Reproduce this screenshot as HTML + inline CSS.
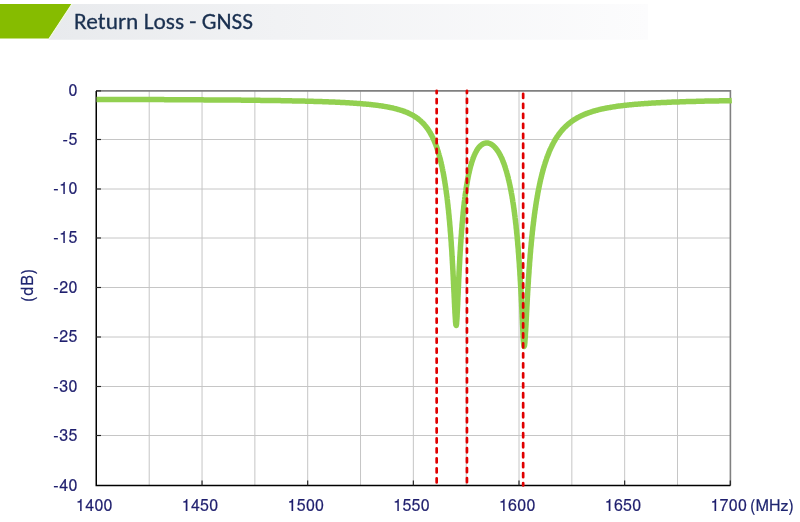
<!DOCTYPE html>
<html><head><meta charset="utf-8"><style>
html,body{margin:0;padding:0;background:#fff;width:800px;height:522px;overflow:hidden}
svg{display:block}
.lbl{font-family:"FreeSans","Liberation Sans",Arial,sans-serif;font-size:16px;fill:#1f1f6e;stroke:#1f1f6e;stroke-width:0.2px;letter-spacing:0.3px}
.ttl{font-family:"Carlito","Liberation Sans",sans-serif;font-size:23.35px;fill:#1a3050;stroke:#1a3050;stroke-width:0.3px}
</style></head><body>
<svg width="800" height="522" viewBox="0 0 800 522">
<defs><linearGradient id="bg" x1="0" x2="1" y1="0" y2="0">
<stop offset="0" stop-color="#e8eaed"/><stop offset="0.38" stop-color="#f1f2f4"/><stop offset="1" stop-color="#fcfcfd"/></linearGradient></defs>
<polygon points="72.3,4 648,4 648,39.7 48.5,39.7" fill="url(#bg)"/>
<polygon points="0,4 71.3,4 48.6,38.5 0,38.5" fill="#86bc00"/>
<line x1="72.3" y1="4" x2="49.6" y2="38.5" stroke="#eef6df" stroke-width="1"/>
<text class="ttl" x="74.1" y="29.3" textLength="178.9" lengthAdjust="spacingAndGlyphs">Return Loss - GNSS</text>
<g stroke="#c6c6c6" stroke-width="1"><line x1="96.0" y1="139.5" x2="730.4" y2="139.5"/><line x1="96.0" y1="189.0" x2="730.4" y2="189.0"/><line x1="96.0" y1="238.0" x2="730.4" y2="238.0"/><line x1="96.0" y1="287.5" x2="730.4" y2="287.5"/><line x1="96.0" y1="337.0" x2="730.4" y2="337.0"/><line x1="96.0" y1="386.5" x2="730.4" y2="386.5"/><line x1="96.0" y1="435.5" x2="730.4" y2="435.5"/><line x1="149.21" y1="90.9" x2="149.21" y2="485.5"/><line x1="202.04" y1="90.9" x2="202.04" y2="485.5"/><line x1="254.86" y1="90.9" x2="254.86" y2="485.5"/><line x1="307.69" y1="90.9" x2="307.69" y2="485.5"/><line x1="360.52" y1="90.9" x2="360.52" y2="485.5"/><line x1="413.35" y1="90.9" x2="413.35" y2="485.5"/><line x1="466.18" y1="90.9" x2="466.18" y2="485.5"/><line x1="519.00" y1="90.9" x2="519.00" y2="485.5"/><line x1="571.83" y1="90.9" x2="571.83" y2="485.5"/><line x1="624.66" y1="90.9" x2="624.66" y2="485.5"/><line x1="677.49" y1="90.9" x2="677.49" y2="485.5"/></g>
<path d="M96.0 90.9 H730.4 V485.5" fill="none" stroke="#808080" stroke-width="1.6"/>
<path d="M96.25 90.9 V485.5 H730.4" fill="none" stroke="#000" stroke-width="1.5"/>
<g stroke="#222" stroke-width="1.15"><line x1="96.0" y1="90.9" x2="101.0" y2="90.9"/><line x1="96.0" y1="139.5" x2="101.0" y2="139.5"/><line x1="96.0" y1="189.0" x2="101.0" y2="189.0"/><line x1="96.0" y1="238.0" x2="101.0" y2="238.0"/><line x1="96.0" y1="287.5" x2="101.0" y2="287.5"/><line x1="96.0" y1="337.0" x2="101.0" y2="337.0"/><line x1="96.0" y1="386.5" x2="101.0" y2="386.5"/><line x1="96.0" y1="435.5" x2="101.0" y2="435.5"/><line x1="202.04" y1="485.5" x2="202.04" y2="480.5"/><line x1="307.69" y1="485.5" x2="307.69" y2="480.5"/><line x1="413.35" y1="485.5" x2="413.35" y2="480.5"/><line x1="519.00" y1="485.5" x2="519.00" y2="480.5"/><line x1="624.66" y1="485.5" x2="624.66" y2="480.5"/><line x1="730.32" y1="485.5" x2="730.32" y2="480.5"/></g>
<path d="M96.5 99.4 L97.2 99.4 L97.9 99.4 L98.7 99.4 L99.4 99.4 L100.1 99.4 L100.8 99.4 L101.5 99.4 L102.3 99.4 L103.0 99.4 L103.7 99.5 L104.4 99.5 L105.1 99.5 L105.9 99.5 L106.6 99.5 L107.3 99.5 L108.0 99.5 L108.7 99.5 L109.4 99.5 L110.2 99.5 L110.9 99.5 L111.6 99.5 L112.3 99.5 L113.0 99.5 L113.8 99.5 L114.5 99.5 L115.2 99.5 L115.9 99.5 L116.6 99.5 L117.4 99.5 L118.1 99.5 L118.8 99.5 L119.5 99.5 L120.2 99.5 L121.0 99.5 L121.7 99.5 L122.4 99.5 L123.1 99.5 L123.8 99.5 L124.5 99.5 L125.3 99.5 L126.0 99.5 L126.7 99.5 L127.4 99.5 L128.1 99.5 L128.9 99.5 L129.6 99.5 L130.3 99.5 L131.0 99.5 L131.7 99.5 L132.5 99.5 L133.2 99.5 L133.9 99.5 L134.6 99.5 L135.3 99.5 L136.1 99.5 L136.8 99.5 L137.5 99.5 L138.2 99.6 L138.9 99.6 L139.6 99.6 L140.4 99.6 L141.1 99.6 L141.8 99.6 L142.5 99.6 L143.2 99.6 L144.0 99.6 L144.7 99.6 L145.4 99.6 L146.1 99.6 L146.8 99.6 L147.6 99.6 L148.3 99.6 L149.0 99.6 L149.7 99.6 L150.4 99.6 L151.2 99.6 L151.9 99.6 L152.6 99.6 L153.3 99.6 L154.0 99.6 L154.7 99.6 L155.5 99.6 L156.2 99.6 L156.9 99.6 L157.6 99.6 L158.3 99.6 L159.1 99.6 L159.8 99.6 L160.5 99.6 L161.2 99.6 L161.9 99.6 L162.7 99.6 L163.4 99.6 L164.1 99.6 L164.8 99.7 L165.5 99.7 L166.2 99.7 L167.0 99.7 L167.7 99.7 L168.4 99.7 L169.1 99.7 L169.8 99.7 L170.6 99.7 L171.3 99.7 L172.0 99.7 L172.7 99.7 L173.4 99.7 L174.2 99.7 L174.9 99.7 L175.6 99.7 L176.3 99.7 L177.0 99.7 L177.8 99.7 L178.5 99.7 L179.2 99.7 L179.9 99.7 L180.6 99.7 L181.3 99.7 L182.1 99.7 L182.8 99.7 L183.5 99.7 L184.2 99.7 L184.9 99.7 L185.7 99.8 L186.4 99.8 L187.1 99.8 L187.8 99.8 L188.5 99.8 L189.3 99.8 L190.0 99.8 L190.7 99.8 L191.4 99.8 L192.1 99.8 L192.9 99.8 L193.6 99.8 L194.3 99.8 L195.0 99.8 L195.7 99.8 L196.4 99.8 L197.2 99.8 L197.9 99.8 L198.6 99.8 L199.3 99.8 L200.0 99.8 L200.8 99.8 L201.5 99.8 L202.2 99.8 L202.9 99.8 L203.6 99.9 L204.4 99.9 L205.1 99.9 L205.8 99.9 L206.5 99.9 L207.2 99.9 L208.0 99.9 L208.7 99.9 L209.4 99.9 L210.1 99.9 L210.8 99.9 L211.5 99.9 L212.3 99.9 L213.0 99.9 L213.7 99.9 L214.4 99.9 L215.1 99.9 L215.9 99.9 L216.6 99.9 L217.3 99.9 L218.0 100.0 L218.7 100.0 L219.5 100.0 L220.2 100.0 L220.9 100.0 L221.6 100.0 L222.3 100.0 L223.0 100.0 L223.8 100.0 L224.5 100.0 L225.2 100.0 L225.9 100.0 L226.6 100.0 L227.4 100.0 L228.1 100.0 L228.8 100.0 L229.5 100.0 L230.2 100.0 L231.0 100.1 L231.7 100.1 L232.4 100.1 L233.1 100.1 L233.8 100.1 L234.6 100.1 L235.3 100.1 L236.0 100.1 L236.7 100.1 L237.4 100.1 L238.1 100.1 L238.9 100.1 L239.6 100.1 L240.3 100.1 L241.0 100.1 L241.7 100.2 L242.5 100.2 L243.2 100.2 L243.9 100.2 L244.6 100.2 L245.3 100.2 L246.1 100.2 L246.8 100.2 L247.5 100.2 L248.2 100.2 L248.9 100.2 L249.7 100.2 L250.4 100.2 L251.1 100.2 L251.8 100.3 L252.5 100.3 L253.2 100.3 L254.0 100.3 L254.7 100.3 L255.4 100.3 L256.1 100.3 L256.8 100.3 L257.6 100.3 L258.3 100.3 L259.0 100.3 L259.7 100.3 L260.4 100.4 L261.2 100.4 L261.9 100.4 L262.6 100.4 L263.3 100.4 L264.0 100.4 L264.8 100.4 L265.5 100.4 L266.2 100.4 L266.9 100.4 L267.6 100.5 L268.3 100.5 L269.1 100.5 L269.8 100.5 L270.5 100.5 L271.2 100.5 L271.9 100.5 L272.7 100.5 L273.4 100.5 L274.1 100.5 L274.8 100.6 L275.5 100.6 L276.3 100.6 L277.0 100.6 L277.7 100.6 L278.4 100.6 L279.1 100.6 L279.8 100.6 L280.6 100.6 L281.3 100.7 L282.0 100.7 L282.7 100.7 L283.4 100.7 L284.2 100.7 L284.9 100.7 L285.6 100.7 L286.3 100.7 L287.0 100.8 L287.8 100.8 L288.5 100.8 L289.2 100.8 L289.9 100.8 L290.6 100.8 L291.4 100.8 L292.1 100.9 L292.8 100.9 L293.5 100.9 L294.2 100.9 L294.9 100.9 L295.7 100.9 L296.4 100.9 L297.1 101.0 L297.8 101.0 L298.5 101.0 L299.3 101.0 L300.0 101.0 L300.7 101.0 L301.4 101.1 L302.1 101.1 L302.9 101.1 L303.6 101.1 L304.3 101.1 L305.0 101.1 L305.7 101.2 L306.5 101.2 L307.2 101.2 L307.9 101.2 L308.6 101.2 L309.3 101.2 L310.0 101.3 L310.8 101.3 L311.5 101.3 L312.2 101.3 L312.9 101.3 L313.6 101.4 L314.4 101.4 L315.1 101.4 L315.8 101.4 L316.5 101.5 L317.2 101.5 L318.0 101.5 L318.7 101.5 L319.4 101.5 L320.1 101.6 L320.8 101.6 L321.6 101.6 L322.3 101.6 L323.0 101.7 L323.7 101.7 L324.4 101.7 L325.1 101.7 L325.9 101.8 L326.6 101.8 L327.3 101.8 L328.0 101.8 L328.7 101.9 L329.5 101.9 L330.2 101.9 L330.9 102.0 L331.6 102.0 L332.3 102.0 L333.1 102.0 L333.8 102.1 L334.5 102.1 L335.2 102.1 L335.9 102.2 L336.6 102.2 L337.4 102.2 L338.1 102.3 L338.8 102.3 L339.5 102.3 L340.2 102.4 L341.0 102.4 L341.7 102.4 L342.4 102.5 L343.1 102.5 L343.8 102.5 L344.6 102.6 L345.3 102.6 L346.0 102.7 L346.7 102.7 L347.4 102.7 L348.2 102.8 L348.9 102.8 L349.6 102.9 L350.3 102.9 L351.0 103.0 L351.7 103.0 L352.5 103.1 L353.2 103.1 L353.9 103.2 L354.6 103.2 L355.3 103.3 L356.1 103.3 L356.8 103.4 L357.5 103.4 L358.2 103.5 L358.9 103.5 L359.7 103.6 L360.4 103.6 L361.1 103.7 L361.8 103.7 L362.5 103.8 L363.3 103.9 L364.0 103.9 L364.7 104.0 L365.4 104.1 L366.1 104.1 L366.8 104.2 L367.6 104.3 L368.3 104.3 L369.0 104.4 L369.7 104.5 L370.4 104.6 L371.2 104.6 L371.9 104.7 L372.6 104.8 L373.3 104.9 L374.0 105.0 L374.8 105.0 L375.5 105.1 L376.2 105.2 L376.9 105.3 L377.6 105.4 L378.4 105.5 L379.1 105.6 L379.8 105.7 L380.5 105.8 L381.2 105.9 L381.9 106.0 L382.7 106.1 L383.4 106.3 L384.1 106.4 L384.8 106.5 L385.5 106.6 L386.3 106.7 L387.0 106.9 L387.7 107.0 L388.4 107.1 L389.1 107.3 L389.9 107.4 L390.6 107.6 L391.3 107.7 L392.0 107.9 L392.7 108.0 L393.4 108.2 L394.2 108.4 L394.9 108.6 L395.6 108.7 L396.3 108.9 L397.0 109.1 L397.7 109.3 L398.4 109.5 L399.0 109.7 L399.7 109.9 L400.4 110.1 L401.1 110.3 L401.7 110.5 L402.4 110.7 L403.1 111.0 L403.8 111.2 L404.4 111.5 L405.1 111.7 L405.8 112.0 L406.5 112.3 L407.2 112.5 L407.8 112.8 L408.5 113.1 L409.2 113.5 L409.8 113.8 L410.5 114.1 L411.1 114.4 L411.7 114.7 L412.4 115.1 L413.0 115.4 L413.6 115.8 L414.3 116.2 L414.9 116.6 L415.5 117.0 L416.1 117.4 L416.7 117.8 L417.3 118.2 L417.9 118.7 L418.4 119.1 L419.0 119.5 L419.5 120.0 L420.1 120.5 L420.6 120.9 L421.2 121.4 L421.7 122.0 L422.3 122.5 L422.8 123.0 L423.3 123.5 L423.8 124.0 L424.3 124.6 L424.7 125.1 L425.2 125.7 L425.7 126.3 L426.1 126.8 L426.6 127.4 L427.0 128.0 L427.5 128.6 L427.9 129.2 L428.3 129.8 L428.7 130.5 L429.1 131.0 L429.5 131.7 L429.9 132.3 L430.2 132.9 L430.6 133.6 L431.0 134.3 L431.3 134.9 L431.7 135.5 L432.0 136.2 L432.4 136.9 L432.7 137.5 L433.0 138.3 L433.3 138.9 L433.6 139.5 L433.9 140.2 L434.2 140.9 L434.5 141.6 L434.8 142.3 L435.1 143.0 L435.4 143.8 L435.7 144.4 L435.9 145.1 L436.2 145.8 L436.4 146.5 L436.7 147.2 L436.9 148.0 L437.2 148.7 L437.4 149.5 L437.7 150.3 L437.9 151.1 L438.2 151.7 L438.4 152.4 L438.6 153.2 L438.8 153.9 L439.0 154.6 L439.2 155.4 L439.4 156.1 L439.6 156.9 L439.8 157.7 L440.1 158.5 L440.3 159.3 L440.5 160.2 L440.6 160.9 L440.8 161.6 L441.0 162.3 L441.2 163.0 L441.3 163.7 L441.5 164.5 L441.7 165.2 L441.8 166.0 L442.0 166.8 L442.2 167.6 L442.3 168.4 L442.5 169.2 L442.7 170.0 L442.8 170.9 L443.0 171.7 L443.2 172.6 L443.4 173.5 L443.5 174.4 L443.7 175.1 L443.8 175.8 L443.9 176.5 L444.0 177.3 L444.2 178.0 L444.3 178.7 L444.4 179.5 L444.5 180.3 L444.7 181.0 L444.8 181.8 L444.9 182.6 L445.0 183.4 L445.2 184.2 L445.3 185.1 L445.4 185.9 L445.6 186.8 L445.7 187.6 L445.8 188.5 L445.9 189.4 L446.1 190.3 L446.2 191.2 L446.3 192.2 L446.4 193.1 L446.6 194.1 L446.7 195.0 L446.8 196.0 L447.0 197.0 L447.1 198.1 L447.2 199.1 L447.3 199.8 L447.4 200.5 L447.5 201.2 L447.5 201.9 L447.6 202.7 L447.7 203.4 L447.8 204.1 L447.9 204.9 L448.0 205.7 L448.0 206.4 L448.1 207.2 L448.2 208.0 L448.3 208.8 L448.4 209.6 L448.5 210.4 L448.6 211.2 L448.6 212.1 L448.7 212.9 L448.8 213.8 L448.9 214.6 L449.0 215.5 L449.1 216.4 L449.1 217.3 L449.2 218.2 L449.3 219.1 L449.4 220.0 L449.5 221.0 L449.6 221.9 L449.7 222.9 L449.7 223.8 L449.8 224.8 L449.9 225.8 L450.0 226.8 L450.1 227.8 L450.2 228.9 L450.2 229.9 L450.3 231.0 L450.4 232.0 L450.5 233.1 L450.6 234.2 L450.7 235.3 L450.8 236.5 L450.8 237.6 L450.9 238.8 L451.0 240.0 L451.1 241.1 L451.2 242.3 L451.3 243.6 L451.3 244.8 L451.4 246.1 L451.5 247.3 L451.6 248.6 L451.7 249.9 L451.8 251.2 L451.9 252.6 L451.9 253.9 L452.0 255.3 L452.1 256.7 L452.2 257.4 L452.2 258.1 L452.2 258.8 L452.3 259.6 L452.3 260.3 L452.4 261.0 L452.4 261.8 L452.4 262.5 L452.5 263.2 L452.5 264.0 L452.6 264.7 L452.6 265.5 L452.7 266.3 L452.7 267.0 L452.7 267.8 L452.8 268.6 L452.8 269.4 L452.9 270.1 L452.9 270.9 L453.0 271.7 L453.0 272.5 L453.0 273.3 L453.1 274.2 L453.1 275.0 L453.2 275.8 L453.2 276.6 L453.3 277.4 L453.3 278.3 L453.3 279.1 L453.4 280.0 L453.4 280.8 L453.5 281.7 L453.5 282.5 L453.5 283.4 L453.6 284.2 L453.6 285.1 L453.7 286.0 L453.7 286.8 L453.8 287.7 L453.8 288.6 L453.8 289.5 L453.9 290.4 L453.9 291.3 L454.0 292.1 L454.0 293.0 L454.1 293.9 L454.1 294.8 L454.1 295.7 L454.2 296.6 L454.2 297.5 L454.3 298.4 L454.3 299.3 L454.4 300.2 L454.4 301.0 L454.4 301.9 L454.5 302.8 L454.5 303.7 L454.6 304.6 L454.6 305.4 L454.6 306.3 L454.7 307.1 L454.7 308.0 L454.8 308.8 L454.8 309.7 L454.9 310.5 L454.9 311.3 L454.9 312.1 L455.0 312.9 L455.0 313.7 L455.1 314.4 L455.1 315.2 L455.2 315.9 L455.2 316.6 L455.3 317.9 L455.4 319.2 L455.5 320.4 L455.5 321.5 L455.6 322.4 L455.7 323.3 L455.8 324.0 L455.9 324.8 L456.2 325.5 L456.4 324.7 L456.6 323.7 L456.6 322.8 L456.7 321.8 L456.8 320.6 L456.9 319.3 L457.0 318.0 L457.0 317.2 L457.1 316.5 L457.1 315.7 L457.1 314.9 L457.2 314.0 L457.2 313.2 L457.3 312.3 L457.3 311.5 L457.4 310.6 L457.4 309.7 L457.4 308.8 L457.5 307.9 L457.5 306.9 L457.6 306.0 L457.6 305.0 L457.7 304.1 L457.7 303.1 L457.7 302.2 L457.8 301.2 L457.8 300.2 L457.9 299.3 L457.9 298.3 L457.9 297.3 L458.0 296.4 L458.0 295.4 L458.1 294.4 L458.1 293.5 L458.2 292.5 L458.2 291.5 L458.2 290.6 L458.3 289.6 L458.3 288.6 L458.4 287.7 L458.4 286.7 L458.5 285.8 L458.5 284.9 L458.5 283.9 L458.6 283.0 L458.6 282.1 L458.7 281.1 L458.7 280.2 L458.7 279.3 L458.8 278.4 L458.8 277.5 L458.9 276.6 L458.9 275.7 L459.0 274.8 L459.0 274.0 L459.0 273.1 L459.1 272.2 L459.1 271.4 L459.2 270.5 L459.2 269.7 L459.3 268.8 L459.3 268.0 L459.3 267.2 L459.4 266.4 L459.4 265.5 L459.5 264.7 L459.5 263.9 L459.6 263.1 L459.6 262.3 L459.6 261.6 L459.7 260.8 L459.7 260.0 L459.8 259.2 L459.8 258.5 L459.8 257.7 L459.9 257.0 L459.9 256.2 L460.0 255.5 L460.0 254.7 L460.1 254.0 L460.1 253.3 L460.1 252.6 L460.2 251.9 L460.2 251.2 L460.3 250.5 L460.4 249.1 L460.4 247.7 L460.5 246.4 L460.6 245.0 L460.7 243.7 L460.8 242.5 L460.9 241.2 L460.9 240.0 L461.0 238.7 L461.1 237.5 L461.2 236.3 L461.3 235.2 L461.4 234.0 L461.5 232.9 L461.5 231.7 L461.6 230.6 L461.7 229.5 L461.8 228.5 L461.9 227.4 L462.0 226.4 L462.0 225.3 L462.1 224.3 L462.2 223.3 L462.3 222.3 L462.4 221.4 L462.5 220.4 L462.6 219.5 L462.6 218.5 L462.7 217.6 L462.8 216.7 L462.9 215.8 L463.0 214.9 L463.1 214.0 L463.1 213.2 L463.2 212.3 L463.3 211.5 L463.4 210.7 L463.5 209.8 L463.6 209.0 L463.7 208.2 L463.7 207.4 L463.8 206.7 L463.9 205.9 L464.0 205.1 L464.1 204.4 L464.2 203.6 L464.2 202.9 L464.3 202.2 L464.4 201.5 L464.5 200.8 L464.6 200.1 L464.7 199.1 L464.8 198.0 L465.0 197.1 L465.1 196.1 L465.2 195.1 L465.3 194.2 L465.5 193.3 L465.6 192.4 L465.7 191.5 L465.9 190.6 L466.0 189.7 L466.1 188.9 L466.2 188.0 L466.4 187.2 L466.5 186.4 L466.6 185.6 L466.7 184.9 L466.9 184.1 L467.0 183.3 L467.1 182.6 L467.3 181.9 L467.4 181.2 L467.5 180.5 L467.6 179.8 L467.8 178.9 L468.0 178.0 L468.1 177.1 L468.3 176.3 L468.5 175.4 L468.6 174.6 L468.8 173.8 L469.0 173.0 L469.2 172.3 L469.3 171.5 L469.5 170.8 L469.7 170.1 L469.8 169.4 L470.0 168.7 L470.2 167.9 L470.4 167.1 L470.6 166.3 L470.8 165.5 L471.1 164.7 L471.3 164.0 L471.5 163.3 L471.7 162.6 L471.9 161.9 L472.2 161.1 L472.4 160.4 L472.7 159.6 L472.9 158.9 L473.2 158.2 L473.4 157.5 L473.7 156.8 L474.0 156.0 L474.3 155.3 L474.6 154.7 L474.9 154.0 L475.2 153.3 L475.6 152.6 L475.9 152.0 L476.3 151.3 L476.6 150.7 L477.0 150.0 L477.4 149.4 L477.8 148.8 L478.2 148.2 L478.7 147.6 L479.2 147.0 L479.7 146.5 L480.2 146.0 L480.7 145.5 L481.3 145.0 L481.9 144.6 L482.5 144.2 L483.1 143.8 L483.8 143.5 L484.5 143.3 L485.2 143.1 L485.9 143.0 L486.6 143.0 L487.3 143.0 L488.1 143.1 L488.8 143.2 L489.5 143.5 L490.1 143.7 L490.8 144.0 L491.4 144.4 L492.0 144.8 L492.6 145.2 L493.1 145.6 L493.7 146.1 L494.2 146.6 L494.7 147.1 L495.2 147.7 L495.7 148.2 L496.2 148.8 L496.6 149.4 L497.1 150.0 L497.5 150.6 L497.9 151.2 L498.3 151.8 L498.7 152.4 L499.1 153.1 L499.4 153.7 L499.8 154.3 L500.1 155.0 L500.5 155.6 L500.8 156.3 L501.1 157.0 L501.5 157.7 L501.8 158.4 L502.1 159.1 L502.4 159.7 L502.7 160.5 L502.9 161.2 L503.2 161.9 L503.5 162.6 L503.8 163.3 L504.0 163.9 L504.3 164.6 L504.5 165.4 L504.8 166.1 L505.0 166.9 L505.3 167.6 L505.5 168.4 L505.7 169.1 L505.9 169.8 L506.2 170.5 L506.4 171.2 L506.6 171.9 L506.8 172.7 L507.0 173.4 L507.2 174.2 L507.4 175.0 L507.6 175.8 L507.9 176.6 L508.1 177.4 L508.3 178.3 L508.4 179.0 L508.6 179.7 L508.8 180.4 L509.0 181.1 L509.1 181.8 L509.3 182.6 L509.5 183.4 L509.6 184.1 L509.8 184.9 L510.0 185.7 L510.1 186.5 L510.3 187.3 L510.5 188.2 L510.6 189.0 L510.8 189.9 L511.0 190.8 L511.2 191.7 L511.3 192.6 L511.4 193.3 L511.6 194.0 L511.7 194.7 L511.8 195.4 L512.0 196.2 L512.1 196.9 L512.2 197.7 L512.3 198.4 L512.5 199.2 L512.6 200.0 L512.7 200.8 L512.8 201.6 L513.0 202.4 L513.1 203.2 L513.2 204.0 L513.4 204.9 L513.5 205.7 L513.6 206.6 L513.7 207.5 L513.9 208.4 L514.0 209.3 L514.1 210.2 L514.2 211.2 L514.4 212.1 L514.5 213.1 L514.6 214.0 L514.7 215.0 L514.9 216.0 L515.0 217.1 L515.1 218.1 L515.2 218.8 L515.3 219.5 L515.4 220.2 L515.5 220.9 L515.5 221.7 L515.6 222.4 L515.7 223.2 L515.8 223.9 L515.9 224.7 L516.0 225.4 L516.1 226.2 L516.1 227.0 L516.2 227.8 L516.3 228.6 L516.4 229.4 L516.5 230.2 L516.6 231.1 L516.6 231.9 L516.7 232.7 L516.8 233.6 L516.9 234.5 L517.0 235.3 L517.1 236.2 L517.2 237.1 L517.2 238.0 L517.3 239.0 L517.4 239.9 L517.5 240.8 L517.6 241.8 L517.7 242.7 L517.7 243.7 L517.8 244.7 L517.9 245.7 L518.0 246.7 L518.1 247.7 L518.2 248.8 L518.3 249.8 L518.3 250.9 L518.4 252.0 L518.5 253.0 L518.6 254.2 L518.7 255.3 L518.8 256.4 L518.8 257.6 L518.9 258.7 L519.0 259.9 L519.1 261.1 L519.2 262.3 L519.3 263.5 L519.4 264.8 L519.4 266.0 L519.5 267.3 L519.6 268.6 L519.7 269.9 L519.8 271.2 L519.9 272.6 L519.9 274.0 L520.0 275.3 L520.1 276.0 L520.1 276.7 L520.2 277.5 L520.2 278.2 L520.2 278.9 L520.3 279.6 L520.3 280.3 L520.4 281.1 L520.4 281.8 L520.5 282.6 L520.5 283.3 L520.5 284.1 L520.6 284.8 L520.6 285.6 L520.7 286.4 L520.7 287.1 L520.8 287.9 L520.8 288.7 L520.8 289.5 L520.9 290.3 L520.9 291.1 L521.0 291.9 L521.0 292.7 L521.0 293.5 L521.1 294.3 L521.1 295.2 L521.2 296.0 L521.2 296.8 L521.3 297.7 L521.3 298.5 L521.3 299.4 L521.4 300.2 L521.4 301.1 L521.5 302.0 L521.5 302.8 L521.6 303.7 L521.6 304.6 L521.6 305.5 L521.7 306.3 L521.7 307.2 L521.8 308.1 L521.8 309.0 L521.9 309.9 L521.9 310.8 L521.9 311.7 L522.0 312.6 L522.0 313.5 L522.1 314.4 L522.1 315.3 L522.1 316.3 L522.2 317.2 L522.2 318.1 L522.3 319.0 L522.3 319.9 L522.4 320.8 L522.4 321.7 L522.4 322.6 L522.5 323.5 L522.5 324.4 L522.6 325.3 L522.6 326.2 L522.7 327.1 L522.7 328.0 L522.7 328.8 L522.8 329.7 L522.8 330.6 L522.9 331.4 L522.9 332.2 L523.0 333.0 L523.0 333.9 L523.0 334.6 L523.1 335.4 L523.1 336.2 L523.2 336.9 L523.2 337.7 L523.2 338.4 L523.3 339.7 L523.4 341.0 L523.5 342.1 L523.6 343.1 L523.7 344.0 L523.8 344.8 L523.9 345.7 L524.1 346.5 L524.4 345.8 L524.6 345.0 L524.7 344.0 L524.8 343.2 L524.9 342.3 L524.9 341.3 L525.0 340.2 L525.1 339.1 L525.2 337.9 L525.3 336.6 L525.4 335.2 L525.4 333.8 L525.5 333.1 L525.5 332.3 L525.6 331.6 L525.6 330.9 L525.7 330.1 L525.7 329.3 L525.7 328.6 L525.8 327.8 L525.8 327.0 L525.9 326.2 L525.9 325.4 L526.0 324.6 L526.0 323.8 L526.0 323.0 L526.1 322.2 L526.1 321.4 L526.2 320.6 L526.2 319.8 L526.3 318.9 L526.3 318.1 L526.3 317.3 L526.4 316.5 L526.4 315.7 L526.5 314.9 L526.5 314.0 L526.5 313.2 L526.6 312.4 L526.6 311.6 L526.7 310.8 L526.7 310.0 L526.8 309.2 L526.8 308.4 L526.8 307.6 L526.9 306.8 L526.9 306.0 L527.0 305.2 L527.0 304.4 L527.1 303.6 L527.1 302.8 L527.1 302.0 L527.2 301.3 L527.2 300.5 L527.3 299.7 L527.3 298.9 L527.3 298.2 L527.4 297.4 L527.4 296.7 L527.5 295.9 L527.5 295.2 L527.6 294.4 L527.6 293.7 L527.6 292.9 L527.7 292.2 L527.7 291.5 L527.8 290.7 L527.8 290.0 L527.9 289.3 L527.9 288.6 L527.9 287.9 L528.0 287.2 L528.0 286.5 L528.1 285.1 L528.2 283.7 L528.3 282.3 L528.4 281.0 L528.4 279.7 L528.5 278.4 L528.6 277.1 L528.7 275.8 L528.8 274.5 L528.9 273.3 L529.0 272.0 L529.0 270.8 L529.1 269.6 L529.2 268.4 L529.3 267.2 L529.4 266.1 L529.5 264.9 L529.5 263.8 L529.6 262.6 L529.7 261.5 L529.8 260.4 L529.9 259.3 L530.0 258.3 L530.1 257.2 L530.1 256.2 L530.2 255.1 L530.3 254.1 L530.4 253.1 L530.5 252.1 L530.6 251.1 L530.6 250.1 L530.7 249.1 L530.8 248.2 L530.9 247.2 L531.0 246.3 L531.1 245.4 L531.2 244.4 L531.2 243.5 L531.3 242.6 L531.4 241.7 L531.5 240.9 L531.6 240.0 L531.7 239.1 L531.7 238.3 L531.8 237.4 L531.9 236.6 L532.0 235.7 L532.1 234.9 L532.2 234.1 L532.3 233.3 L532.3 232.5 L532.4 231.7 L532.5 230.9 L532.6 230.2 L532.7 229.4 L532.8 228.6 L532.8 227.9 L532.9 227.1 L533.0 226.4 L533.1 225.7 L533.2 225.0 L533.3 224.2 L533.4 223.5 L533.4 222.8 L533.5 222.1 L533.7 221.1 L533.8 220.1 L533.9 219.1 L534.0 218.1 L534.2 217.1 L534.3 216.1 L534.4 215.1 L534.5 214.2 L534.7 213.3 L534.8 212.4 L534.9 211.4 L535.0 210.5 L535.2 209.7 L535.3 208.8 L535.4 207.9 L535.6 207.1 L535.7 206.2 L535.8 205.4 L535.9 204.6 L536.1 203.7 L536.2 202.9 L536.3 202.1 L536.4 201.4 L536.6 200.6 L536.7 199.8 L536.8 199.0 L537.0 198.3 L537.1 197.6 L537.2 196.8 L537.3 196.1 L537.5 195.4 L537.6 194.7 L537.7 194.0 L537.8 193.3 L538.0 192.3 L538.2 191.4 L538.3 190.6 L538.5 189.7 L538.7 188.8 L538.9 188.0 L539.0 187.1 L539.2 186.3 L539.4 185.5 L539.5 184.7 L539.7 183.9 L539.9 183.1 L540.0 182.3 L540.2 181.5 L540.4 180.8 L540.5 180.0 L540.7 179.3 L540.9 178.6 L541.1 177.9 L541.2 177.2 L541.4 176.5 L541.6 175.8 L541.7 175.1 L541.9 174.3 L542.2 173.4 L542.4 172.6 L542.6 171.8 L542.8 171.0 L543.0 170.3 L543.2 169.5 L543.4 168.7 L543.6 168.0 L543.8 167.3 L544.1 166.5 L544.3 165.8 L544.5 165.1 L544.7 164.4 L544.9 163.8 L545.1 163.1 L545.4 162.3 L545.6 161.5 L545.9 160.8 L546.1 160.0 L546.4 159.3 L546.6 158.6 L546.9 157.8 L547.1 157.1 L547.4 156.5 L547.7 155.8 L547.9 155.1 L548.2 154.5 L548.5 153.7 L548.8 153.0 L549.0 152.2 L549.3 151.5 L549.6 150.8 L549.9 150.1 L550.2 149.5 L550.5 148.8 L550.8 148.2 L551.1 147.5 L551.5 146.8 L551.8 146.1 L552.1 145.4 L552.5 144.8 L552.8 144.1 L553.1 143.5 L553.5 142.8 L553.8 142.2 L554.2 141.5 L554.6 140.9 L555.0 140.2 L555.3 139.6 L555.7 138.9 L556.1 138.3 L556.5 137.7 L556.9 137.1 L557.3 136.4 L557.8 135.8 L558.2 135.2 L558.6 134.6 L559.0 134.0 L559.5 133.5 L559.9 132.9 L560.4 132.3 L560.8 131.7 L561.3 131.1 L561.8 130.6 L562.2 130.0 L562.7 129.5 L563.2 129.0 L563.7 128.4 L564.2 127.9 L564.7 127.4 L565.2 126.9 L565.8 126.4 L566.3 125.8 L566.9 125.3 L567.4 124.9 L568.0 124.4 L568.5 123.9 L569.1 123.5 L569.6 123.0 L570.2 122.5 L570.8 122.1 L571.4 121.7 L572.0 121.2 L572.6 120.8 L573.2 120.4 L573.7 120.0 L574.3 119.6 L574.9 119.3 L575.6 118.9 L576.2 118.5 L576.8 118.1 L577.5 117.8 L578.1 117.4 L578.7 117.1 L579.4 116.7 L580.0 116.4 L580.6 116.1 L581.3 115.8 L581.9 115.5 L582.6 115.2 L583.3 114.9 L583.9 114.6 L584.6 114.3 L585.3 114.0 L586.0 113.8 L586.6 113.5 L587.3 113.3 L588.0 113.0 L588.7 112.8 L589.4 112.5 L590.0 112.3 L590.7 112.1 L591.4 111.8 L592.1 111.6 L592.7 111.4 L593.4 111.2 L594.1 111.0 L594.8 110.8 L595.4 110.6 L596.1 110.4 L596.8 110.3 L597.5 110.1 L598.2 109.9 L599.0 109.7 L599.7 109.5 L600.4 109.4 L601.1 109.2 L601.8 109.0 L602.5 108.9 L603.3 108.7 L604.0 108.6 L604.7 108.4 L605.4 108.3 L606.1 108.1 L606.9 108.0 L607.6 107.9 L608.3 107.7 L609.0 107.6 L609.7 107.5 L610.5 107.4 L611.2 107.2 L611.9 107.1 L612.6 107.0 L613.3 106.9 L614.1 106.8 L614.8 106.7 L615.5 106.6 L616.2 106.4 L616.9 106.3 L617.6 106.2 L618.4 106.1 L619.1 106.1 L619.8 106.0 L620.5 105.9 L621.2 105.8 L622.0 105.7 L622.7 105.6 L623.4 105.5 L624.1 105.4 L624.8 105.3 L625.6 105.3 L626.3 105.2 L627.0 105.1 L627.7 105.0 L628.4 105.0 L629.1 104.9 L629.9 104.8 L630.6 104.7 L631.3 104.7 L632.0 104.6 L632.7 104.5 L633.5 104.5 L634.2 104.4 L634.9 104.3 L635.6 104.3 L636.3 104.2 L637.1 104.2 L637.8 104.1 L638.5 104.0 L639.2 104.0 L639.9 103.9 L640.7 103.9 L641.4 103.8 L642.1 103.8 L642.8 103.7 L643.5 103.7 L644.2 103.6 L645.0 103.6 L645.7 103.5 L646.4 103.5 L647.1 103.4 L647.8 103.4 L648.6 103.3 L649.3 103.3 L650.0 103.2 L650.7 103.2 L651.4 103.1 L652.2 103.1 L652.9 103.1 L653.6 103.0 L654.3 103.0 L655.0 102.9 L655.8 102.9 L656.5 102.8 L657.2 102.8 L657.9 102.8 L658.6 102.7 L659.3 102.7 L660.1 102.7 L660.8 102.6 L661.5 102.6 L662.2 102.6 L662.9 102.5 L663.7 102.5 L664.4 102.5 L665.1 102.4 L665.8 102.4 L666.5 102.4 L667.3 102.3 L668.0 102.3 L668.7 102.3 L669.4 102.2 L670.1 102.2 L670.9 102.2 L671.6 102.1 L672.3 102.1 L673.0 102.1 L673.7 102.1 L674.4 102.0 L675.2 102.0 L675.9 102.0 L676.6 102.0 L677.3 101.9 L678.0 101.9 L678.8 101.9 L679.5 101.9 L680.2 101.8 L680.9 101.8 L681.6 101.8 L682.4 101.8 L683.1 101.7 L683.8 101.7 L684.5 101.7 L685.2 101.7 L685.9 101.6 L686.7 101.6 L687.4 101.6 L688.1 101.6 L688.8 101.6 L689.5 101.5 L690.3 101.5 L691.0 101.5 L691.7 101.5 L692.4 101.5 L693.1 101.4 L693.9 101.4 L694.6 101.4 L695.3 101.4 L696.0 101.4 L696.7 101.3 L697.5 101.3 L698.2 101.3 L698.9 101.3 L699.6 101.3 L700.3 101.2 L701.0 101.2 L701.8 101.2 L702.5 101.2 L703.2 101.2 L703.9 101.2 L704.6 101.1 L705.4 101.1 L706.1 101.1 L706.8 101.1 L707.5 101.1 L708.2 101.1 L709.0 101.1 L709.7 101.0 L710.4 101.0 L711.1 101.0 L711.8 101.0 L712.6 101.0 L713.3 101.0 L714.0 100.9 L714.7 100.9 L715.4 100.9 L716.1 100.9 L716.9 100.9 L717.6 100.9 L718.3 100.9 L719.0 100.9 L719.7 100.8 L720.5 100.8 L721.2 100.8 L721.9 100.8 L722.6 100.8 L723.3 100.8 L724.1 100.8 L724.8 100.8 L725.5 100.7 L726.2 100.7 L726.9 100.7 L727.7 100.7 L728.4 100.7 L729.1 100.7 L729.8 100.7 L730.4 100.7 L731.8 100.6" fill="none" stroke="#92d050" stroke-width="5.5" stroke-linejoin="round" stroke-linecap="butt"/>
<g stroke="#e00000" stroke-width="2.7" stroke-dasharray="4.2 5.78" stroke-dashoffset="0" stroke-linecap="round"><line x1="436.67" y1="485.5" x2="436.67" y2="90.9" stroke-dashoffset="6.93"/><line x1="466.95" y1="485.5" x2="466.95" y2="90.9" stroke-dashoffset="6.73"/><line x1="523.16" y1="485.5" x2="523.16" y2="90.9" stroke-dashoffset="1.73"/></g>
<g class="lbl"><text x="77.7" y="96.2" text-anchor="end">0</text><text x="77.7" y="144.8" text-anchor="end">-<tspan dx="0.4">5</tspan></text><text x="77.7" y="194.3" text-anchor="end">-<tspan dx="0.4">10</tspan></text><text x="77.7" y="243.3" text-anchor="end">-<tspan dx="0.4">15</tspan></text><text x="77.7" y="292.8" text-anchor="end">-<tspan dx="0.4">20</tspan></text><text x="77.7" y="342.3" text-anchor="end">-<tspan dx="0.4">25</tspan></text><text x="77.7" y="391.8" text-anchor="end">-<tspan dx="0.4">30</tspan></text><text x="77.7" y="440.8" text-anchor="end">-<tspan dx="0.4">35</tspan></text><text x="77.7" y="490.8" text-anchor="end">-<tspan dx="0.4">40</tspan></text><text x="94.4" y="511" text-anchor="middle">1400</text><text x="200.1" y="511" text-anchor="middle">1450</text><text x="305.9" y="511" text-anchor="middle">1500</text><text x="411.6" y="511" text-anchor="middle">1550</text><text x="517.3" y="511" text-anchor="middle">1600</text><text x="623.1" y="511" text-anchor="middle">1650</text><text x="728.8" y="511" text-anchor="middle">1700</text></g>
<text class="lbl" x="750" y="511" style="fill:#1f2670;stroke:#1f2670;letter-spacing:0.2px">(MHz)</text>
<text class="lbl" transform="translate(33.4,285) rotate(-90)" text-anchor="middle" style="fill:#1f2670;stroke:#1f2670;letter-spacing:0.9px">(dB)</text>
</svg>
</body></html>
